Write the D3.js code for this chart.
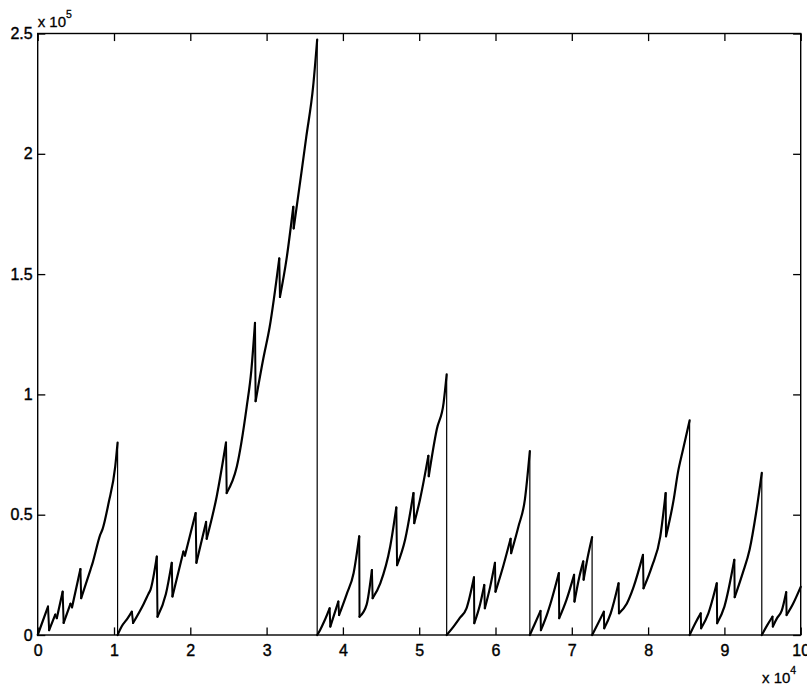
<!DOCTYPE html>
<html>
<head>
<meta charset="utf-8">
<script src="https://cdn.jsdelivr.net/npm/d3@7"></script>
<style>
  html, body { margin: 0; padding: 0; background: #fff; }
  svg { display: block; }
  text { font-family: "Liberation Sans", Arial, Helvetica, sans-serif; fill: #000; }
</style>
</head>
<body>
<svg id="chart" width="807" height="692"></svg>
<script>
// Sample positions (units of 1e4) and values (units of 1e5).
// A vertical reset is two consecutive samples sharing the same x.
const xVals = [
  0, 0.135, 0.15, 0.23, 0.25, 0.327, 0.34, 0.43, 0.45, 0.56, 0.57, 0.69, 0.72, 0.82, 0.85, 0.93, 1.016, 1.047,
  1.047, 1.10, 1.18, 1.234, 1.25, 1.39, 1.45, 1.48, 1.561, 1.57, 1.68, 1.757, 1.766, 1.91, 1.93, 2.07, 2.08,
  2.207, 2.215, 2.346, 2.468, 2.477, 2.61, 2.74, 2.80, 2.848, 2.856, 2.957, 3.04, 3.166, 3.175, 3.26, 3.35, 3.355,
  3.46, 3.52, 3.61, 3.663,
  3.663, 3.70, 3.76, 3.826, 3.835, 3.94, 3.95, 4.05, 4.14, 4.214, 4.218, 4.31, 4.38, 4.39, 4.49, 4.62, 4.70, 4.71,
  4.815, 4.925, 4.935, 5.01, 5.12, 5.125, 5.23, 5.32, 5.36,
  5.36, 5.45, 5.53, 5.62, 5.718, 5.722, 5.80, 5.853, 5.86, 5.93, 5.993, 6.0, 6.10, 6.198, 6.205, 6.30, 6.385, 6.45,
  6.45, 6.52, 6.59, 6.595, 6.68, 6.72, 6.83, 6.835, 6.93, 7.03, 7.035, 7.10, 7.15, 7.155, 7.21, 7.266,
  7.266, 7.345, 7.42, 7.425, 7.51, 7.613, 7.618, 7.72, 7.81, 7.933, 7.94, 8.05, 8.16, 8.23, 8.235, 8.335, 8.39,
  8.457, 8.544,
  8.544, 8.62, 8.69, 8.695, 8.79, 8.90, 8.905, 9.0, 9.13, 9.135, 9.24, 9.33, 9.415, 9.49,
  9.49, 9.56, 9.63, 9.635, 9.69, 9.75, 9.81, 9.815, 9.9, 10.0
];
const yVals = [
  0, 0.118, 0.02, 0.085, 0.07, 0.18, 0.05, 0.13, 0.115, 0.274, 0.153, 0.27, 0.30, 0.417, 0.44, 0.55, 0.70, 0.80,
  0, 0.035, 0.07, 0.097, 0.05, 0.13, 0.17, 0.19, 0.326, 0.076, 0.17, 0.30, 0.16, 0.347, 0.33, 0.507, 0.30,
  0.47, 0.40, 0.576, 0.80, 0.59, 0.70, 0.95, 1.10, 1.297, 0.972, 1.149, 1.28, 1.565, 1.405, 1.56, 1.78, 1.69,
  1.93, 2.07, 2.28, 2.475,
  0, 0.02, 0.06, 0.111, 0.035, 0.139, 0.083, 0.17, 0.257, 0.41, 0.076, 0.125, 0.27, 0.153, 0.215, 0.368, 0.53, 0.29,
  0.396, 0.59, 0.465, 0.5625, 0.745, 0.66, 0.854, 0.965, 1.083,
  0, 0.035, 0.07, 0.111, 0.24, 0.049, 0.13, 0.208, 0.111, 0.2, 0.30, 0.18, 0.285, 0.40, 0.34, 0.45, 0.5625, 0.764,
  0, 0.05, 0.10, 0.02, 0.09, 0.13, 0.257, 0.07, 0.146, 0.25, 0.139, 0.243, 0.306, 0.23, 0.326, 0.407,
  0, 0.049, 0.097, 0.028, 0.09, 0.215, 0.09, 0.13, 0.2, 0.333, 0.194, 0.285, 0.41, 0.59, 0.41, 0.5625, 0.674,
  0.77, 0.892,
  0, 0.05, 0.09, 0.028, 0.09, 0.215, 0.049, 0.118, 0.3125, 0.157, 0.257, 0.354, 0.507, 0.674,
  0, 0.04, 0.076, 0.035, 0.07, 0.1, 0.178, 0.083, 0.13, 0.2
];

const xTicks = [0, 1, 2, 3, 4, 5, 6, 7, 8, 9, 10];
const yTicks = [0, 0.5, 1, 1.5, 2, 2.5];
const xTickLabels = ["0", "1", "2", "3", "4", "5", "6", "7", "8", "9", "10"];
const yTickLabels = ["0", "0.5", "1", "1.5", "2", "2.5"];
const xExponent = "4";
const yExponent = "5";

const svg = d3.select("#chart");
const plotLeft = 37.7, plotRight = 800.7, plotTop = 33.5, plotBottom = 635;
const tickLen = 7.6;

const x = d3.scaleLinear().domain([0, 10]).range([plotLeft, plotRight]);
const y = d3.scaleLinear().domain([0, 2.5]).range([plotBottom, plotTop]);

const points = xVals.map((v, i) => [v, yVals[i]]);

// Classify every step of the trace: rising stretches are drawn smooth,
// tooth drops as straight strokes, full resets as thin verticals.
const rises = [];
const drops = [];
const resets = [];
let cur = [points[0]];
for (let i = 1; i < points.length; i++) {
  const a = points[i - 1], b = points[i];
  if (b[1] >= a[1]) {
    cur.push(b);
  } else {
    if (cur.length > 1) rises.push(cur);
    if (a[0] === b[0] && b[1] === 0) resets.push([a, b]);
    else drops.push([a, b]);
    cur = [b];
  }
}
if (cur.length > 1) rises.push(cur);

const straight = d3.line().x(d => x(d[0])).y(d => y(d[1]));
const smooth = d3.line().x(d => x(d[0])).y(d => y(d[1])).curve(d3.curveMonotoneX);

svg.append("g").selectAll("path")
  .data(resets)
  .join("path")
  .attr("d", straight)
  .attr("fill", "none")
  .attr("stroke", "#000")
  .attr("stroke-width", 1.2);

svg.append("g").selectAll("path")
  .data(drops)
  .join("path")
  .attr("d", straight)
  .attr("fill", "none")
  .attr("stroke", "#000")
  .attr("stroke-width", 2)
  .attr("stroke-linecap", "round");

svg.append("g").selectAll("path")
  .data(rises)
  .join("path")
  .attr("d", smooth)
  .attr("fill", "none")
  .attr("stroke", "#000")
  .attr("stroke-width", 2.2)
  .attr("stroke-linecap", "round")
  .attr("stroke-linejoin", "round");

// axes with inward ticks on all four sides
const fontSize = "16px";
const gx = svg.append("g").attr("transform", `translate(0,${plotBottom})`)
  .call(d3.axisBottom(x).tickValues(xTicks).tickFormat((d, i) => xTickLabels[i])
    .tickSizeInner(-tickLen).tickSizeOuter(0).tickPadding(10));
const gxt = svg.append("g").attr("transform", `translate(0,${plotTop})`)
  .call(d3.axisTop(x).tickValues(xTicks).tickFormat("")
    .tickSizeInner(-tickLen).tickSizeOuter(0));
const gy = svg.append("g").attr("transform", `translate(${plotLeft},0)`)
  .call(d3.axisLeft(y).tickValues(yTicks).tickFormat((d, i) => yTickLabels[i])
    .tickSizeInner(-tickLen).tickSizeOuter(0).tickPadding(5));
const gyr = svg.append("g").attr("transform", `translate(${plotRight},0)`)
  .call(d3.axisRight(y).tickValues(yTicks).tickFormat("")
    .tickSizeInner(-tickLen).tickSizeOuter(0));

[gx, gxt, gy, gyr].forEach(g => {
  g.select(".domain").remove();
  g.selectAll("line").attr("stroke", "#000").attr("stroke-width", 1.3);
  g.selectAll("text").style("font-size", fontSize).attr("fill", "#000")
    .attr("stroke", "#000").attr("stroke-width", 0.4)
    .style("font-family", "'Liberation Sans', Arial, sans-serif");
});

// frame
svg.append("rect")
  .attr("x", plotLeft).attr("y", plotTop)
  .attr("width", plotRight - plotLeft).attr("height", plotBottom - plotTop)
  .attr("fill", "none").attr("stroke", "#000").attr("stroke-width", 1.4);

// scale multipliers
const yMult = svg.append("text").attr("x", plotLeft).attr("y", 27)
  .style("font-size", "15px").attr("stroke", "#000").attr("stroke-width", 0.3);
yMult.append("tspan").text("x 10");
yMult.append("tspan").attr("dy", -9).style("font-size", "10.5px").text(yExponent);

const xMult = svg.append("text").attr("x", 762).attr("y", 683)
  .style("font-size", "15px").attr("stroke", "#000").attr("stroke-width", 0.3);
xMult.append("tspan").text("x 10");
xMult.append("tspan").attr("dy", -9).style("font-size", "10.5px").text(xExponent);
</script>
</body>
</html>
